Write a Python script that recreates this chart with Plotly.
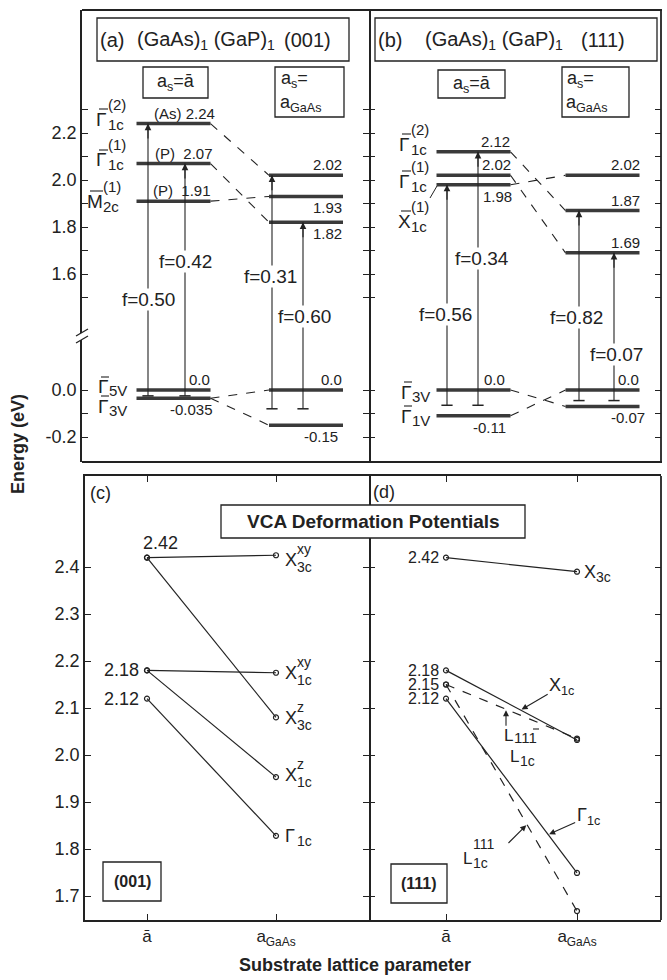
import plotly.graph_objects as go

W, H = 667, 980
FONT = "Liberation Sans, Arial, Helvetica, sans-serif"
INK = "#222222"
LEVEL_INK = "#3a3a3a"

# ---------------- data (energies in eV) ----------------
# (a) (GaAs)1(GaP)1 (001)
a_cond_abar = [2.24, 2.07, 1.91]      # Γ1c(2) (As), Γ1c(1) (P), M2c(1) (P)
a_cond_gaas = [2.02, 1.93, 1.82]
a_val_abar = [0.0, -0.035]            # Γ5V, Γ3V
a_val_gaas = [0.0, -0.15]
a_link_from = [2.24, 2.07, 1.91, -0.035, -0.035]
a_link_to = [2.02, 1.82, 1.93, 0.0, -0.15]
a_f = [0.50, 0.42, 0.31, 0.60]
a_tr_col = [0, 0, 1, 1]
a_tr_top = [2.24, 2.07, 2.02, 1.82]
a_tr_bot = [-0.025, -0.025, -0.08, -0.08]

# (b) (GaAs)1(GaP)1 (111)
b_cond_abar = [2.12, 2.02, 1.98]      # Γ1c(2), Γ1c(1), X1c(1)
b_cond_gaas = [2.02, 1.87, 1.69]
b_val_abar = [0.0, -0.11]             # Γ3V, Γ1V
b_val_gaas = [0.0, -0.07]
b_link_from = [2.12, 2.02, 1.98, 0.0, -0.11]
b_link_to = [1.87, 1.69, 2.02, -0.07, 0.0]
b_f = [0.56, 0.34, 0.82, 0.07]
b_tr_col = [0, 0, 1, 1]
b_tr_top = [1.98, 2.12, 1.87, 1.69]
b_tr_bot = [-0.065, -0.065, -0.045, -0.045]

# (c) VCA deformation potentials, (001): value at a-bar -> value at a_GaAs
c_start = [2.42, 2.18, 2.42, 2.18, 2.12]        # X3c^xy, X1c^xy, X3c^z, X1c^z, Γ1c
c_end = [2.425, 2.175, 2.08, 1.953, 1.828]
# (d) (111)
d_start = [2.42, 2.18, 2.15, 2.12, 2.15]        # X3c, X1c, L1c^(11-1), Γ1c, L1c^(111)
d_end = [2.39, 2.032, 2.035, 1.749, 1.668]
d_dashed = [False, False, True, False, True]

x_positions = [0, 1]
x_tick_text = ["ā", "a<sub>GaAs</sub>"]
top_up_ticks = [1.5, 1.6, 1.7, 1.8, 1.9, 2.0, 2.1, 2.2, 2.3]
top_up_ticktext = ["", "1.6", "", "1.8", "", "2.0", "", "2.2", ""]
top_lo_ticks = [-0.2, -0.1, 0.0]
top_lo_ticktext = ["-0.2", "", "0.0"]
bot_ticks = [1.7, 1.8, 1.9, 2.0, 2.1, 2.2, 2.3, 2.4]
bot_ticktext = ["1.7", "1.8", "1.9", "2.0", "2.1", "2.2", "2.3", "2.4"]

# ---------------- page geometry (pixels) ----------------
TOP_X0, TOP_XM, TOP_X1 = 82, 369, 661
TOP_Y0, TOP_YB, TOP_Y1 = 10, 338, 462
BOT_X0, BOT_XM, BOT_X1 = 85, 369, 661
BOT_Y0, BOT_Y1 = 476, 920
A_COLS = (173.5, 306.0)
B_COLS = (473.5, 602.5)
C_COLS = (147.0, 276.0)
D_COLS = (446.0, 577.0)
COL_HALF = 37


def xrange_for(x0, x1, cols):
    s = cols[1] - cols[0]
    return [(x0 - cols[0]) / s, (x1 - cols[0]) / s], s


def yrange_for(ytop, ybot, ref_val, ref_px, ppe):
    return [ref_val - (ybot - ref_px) / ppe, ref_val + (ref_px - ytop) / ppe]


def xdom(x0, x1):
    return [x0 / W, x1 / W]


def ydom(ytop, ybot):
    return [1 - ybot / H, 1 - ytop / H]


UP_RNG = yrange_for(TOP_Y0, TOP_YB, 2.2, 133, 235.0)
LO_RNG = yrange_for(TOP_YB, TOP_Y1, 0.0, 390, 235.0)
BOT_RNG = yrange_for(BOT_Y0, BOT_Y1, 2.4, 567, 470.0)
A_XR, A_S = xrange_for(TOP_X0, TOP_XM, A_COLS)
B_XR, B_S = xrange_for(TOP_XM, TOP_X1, B_COLS)
C_XR, _ = xrange_for(BOT_X0, BOT_XM, C_COLS)
D_XR, _ = xrange_for(BOT_XM, BOT_X1, D_COLS)

fig = go.Figure()
anns = []
shapes = []


def P(px, py):
    return px / W, 1 - py / H


def ann(text, x, y, xref="paper", yref="paper", dx=0, dy=0, size=15, xa="left",
        ya="middle", bold=False, **kw):
    if bold:
        text = f"<b>{text}</b>"
    d = dict(text=text, x=x, y=y, xref=xref, yref=yref, xshift=dx, yshift=-dy,
             showarrow=False, xanchor=xa, yanchor=ya, borderpad=0,
             font=dict(size=size, family=FONT, color=INK))
    d.update(kw)
    anns.append(d)


def annp(text, px, py, **kw):
    x, y = P(px, py)
    ann(text, x, y, **kw)


def stacked(base, sup, sub, x, y, xref="paper", yref="paper", dx=0, dy=0,
            size=18, ssize=14, bw=None, supdy=-11, subdy=7):
    bw = size * 0.62 if bw is None else bw
    ann(base, x, y, xref, yref, dx, dy, size)
    if sup:
        ann(sup, x, y, xref, yref, dx + bw, dy + supdy, ssize)
    if sub:
        ann(sub, x, y, xref, yref, dx + bw, dy + subdy, ssize)


def pline(x0, y0, x1, y1, width=1.5, color=INK):
    shapes.append(dict(type="line", xref="paper", yref="paper", x0=x0 / W, y0=1 - y0 / H,
                       x1=x1 / W, y1=1 - y1 / H, line=dict(width=width, color=color)))


def prect(x0, y0, x1, y1, width=1.3, fill=None, border=True):
    d = dict(type="rect", xref="paper", yref="paper", x0=x0 / W, y0=1 - y1 / H,
             x1=x1 / W, y1=1 - y0 / H, line=dict(width=(width if border else 0), color=INK))
    if fill:
        d["fillcolor"] = fill
    shapes.append(d)


def barred(base, sup, sub, px, py, bw, **kw):
    """Letter with an over-bar (drawn as a short line) and stacked indices."""
    stacked(base, sup, sub, *P(px, py), bw=bw, **kw)
    pline(px + 4, py - 10, px + bw + 1, py - 10, width=1.1)


def fmt(v):
    return "0.0" if v == 0 else f"{v:g}"


def build_top(xa, yu, yl, s, cond_l, cond_r, val_l, val_r, lk_from, lk_to,
              tr_col, tr_off, tr_top, tr_bot, f_vals, f_pos, labels):
    hw = COL_HALF / s
    groups = {"cond_l": (cond_l, 0, yu), "cond_r": (cond_r, 1, yu),
              "val_l": (val_l, 0, yl), "val_r": (val_r, 1, yl)}
    for key, (levels, col, yref) in groups.items():
        xs, ys = [], []
        for e in levels:
            xs += [col - hw, col + hw, None]
            ys += [e, e, None]
        fig.add_trace(go.Scatter(x=xs, y=ys, xaxis=xa, yaxis=yref, mode="lines",
                                 line=dict(color=LEVEL_INK, width=3.5), hoverinfo="skip"))
        for e, (place, prefix, dx) in zip(levels, labels[key]):
            ann(prefix + fmt(e), col + hw, e, xa, yref, dx=dx,
                dy=(-1 if place == "above" else 2), size=15, xa="right",
                ya=("bottom" if place == "above" else "top"))
    # dashed correlation lines
    ux, uy, lx, ly = [], [], [], []
    for e0, e1 in zip(lk_from, lk_to):
        if e0 > 1:
            ux += [hw, 1 - hw, None]
            uy += [e0, e1, None]
        else:
            lx += [hw, 1 - hw, None]
            ly += [e0, e1, None]
    for xs, ys, yref in [(ux, uy, yu), (lx, ly, yl)]:
        fig.add_trace(go.Scatter(x=xs, y=ys, xaxis=xa, yaxis=yref, mode="lines",
                                 line=dict(color=INK, width=1.1, dash="dash"),
                                 hoverinfo="skip"))
    # transitions
    ux, uy, lx, ly, tx, ty = [], [], [], [], [], []
    for c, off, t, b in zip(tr_col, tr_off, tr_top, tr_bot):
        xc = c + off / s
        lx += [xc, xc, None]
        ly += [b, LO_RNG[1], None]
        ux += [xc, xc, None]
        uy += [UP_RNG[0], t, None]
        tx.append(xc)
        ty.append(b)
        anns.append(dict(x=xc, y=t, xref=xa, yref=yu, ax=xc, ay=t - 0.07, axref=xa,
                         ayref=yu, text="", showarrow=True, arrowhead=2, arrowsize=1.2,
                         arrowwidth=1.1, arrowcolor=INK, standoff=0))
    fig.add_trace(go.Scatter(x=lx, y=ly, xaxis=xa, yaxis=yl, mode="lines",
                             line=dict(color=INK, width=1.1), hoverinfo="skip"))
    fig.add_trace(go.Scatter(x=ux, y=uy, xaxis=xa, yaxis=yu, mode="lines",
                             line=dict(color=INK, width=1.1), hoverinfo="skip"))
    fig.add_trace(go.Scatter(x=tx, y=ty, xaxis=xa, yaxis=yl, mode="markers",
                             marker=dict(symbol="line-ew", size=8,
                                         line=dict(width=1.5, color=INK)),
                             hoverinfo="skip"))
    for f, (px, py) in zip(f_vals, f_pos):
        annp(f"f={f:.2f}", px, py, size=19, xa="center", bgcolor="white")


A_LABELS = {
    "cond_l": [("above", "(As) ", 5), ("above", "(P)\u00a0\u00a0", 3), ("above", "(P)\u00a0\u00a0", 1)],
    "cond_r": [("above", "", 0), ("below", "", 0), ("below", "", 0)],
    "val_l": [("above", "", 0), ("below", "", 3)],
    "val_r": [("above", "", 0), ("below", "", -4)],
}
B_LABELS = {
    "cond_l": [("above", "", 0), ("above", "", 1), ("below", "", 2)],
    "cond_r": [("above", "", 1), ("above", "", 1), ("above", "", 1)],
    "val_l": [("above", "", -5), ("below", "", -4)],
    "val_r": [("above", "", 0), ("below", "", 6)],
}

build_top("x", "y", "y2", A_S, a_cond_abar, a_cond_gaas, a_val_abar, a_val_gaas,
          a_link_from, a_link_to, a_tr_col, [-25.5, 11.5, -34, -3], a_tr_top, a_tr_bot,
          a_f, [(148, 299), (185, 261), (270, 276), (304, 316)], A_LABELS)
build_top("x2", "y3", "y4", B_S, b_cond_abar, b_cond_gaas, b_val_abar, b_val_gaas,
          b_link_from, b_link_to, b_tr_col, [-26.5, 4.5, -23.5, 11.5], b_tr_top, b_tr_bot,
          b_f, [(445, 315), (482, 259), (576, 317), (616, 354)], B_LABELS)

# ---------------- bottom panels ----------------
MK = dict(symbol="circle-open", size=5, color=INK, line=dict(width=1.2, color=INK))
for y0, y1 in zip(c_start, c_end):
    fig.add_trace(go.Scatter(x=x_positions, y=[y0, y1], xaxis="x3", yaxis="y5",
                             mode="lines+markers", line=dict(color=INK, width=1.2),
                             marker=MK, hoverinfo="skip"))
for y0, y1, dsh in zip(d_start, d_end, d_dashed):
    fig.add_trace(go.Scatter(x=x_positions, y=[y0, y1], xaxis="x4", yaxis="y6",
                             mode="lines+markers",
                             line=dict(color=INK, width=1.2, dash=("dash" if dsh else "solid")),
                             marker=MK, hoverinfo="skip"))

# (c) labels
ann(fmt(c_start[0]), 0, c_start[0], "x3", "y5", dx=13, dy=-15, size=18, xa="center")
for v in sorted(set(c_start[1:]) - {c_start[0]}, reverse=True):
    ann(fmt(v), 0, v, "x3", "y5", dx=-7, size=18, xa="right")
c_names = [("X", "xy", "3c"), ("X", "xy", "1c"), ("X", "z", "3c"), ("X", "z", "1c"), ("Γ", None, "1c")]
c_dy = [5, 0, 1, -2, 0]
for (b, sp, sb), v, ddy in zip(c_names, c_end, c_dy):
    stacked(b, sp, sb, 1, v, "x3", "y5", dx=8, dy=ddy, size=18, ssize=14, bw=12,
            supdy=-11, subdy=(7 if sp else 5))
# (d) labels
for v in sorted(set(d_start), reverse=True):
    ann(fmt(v), 0, v, "x4", "y6", dx=-6, size=16, xa="right")
stacked("X", None, "3c", 1, d_end[0], "x4", "y6", dx=6, dy=0, size=18, ssize=14, bw=12, subdy=5)


def on_line(i, t):
    return t, d_start[i] + t * (d_end[i] - d_start[i])


tx, ty = on_line(1, 0.57)
anns.append(dict(x=tx, y=ty, xref="x4", yref="y6", ax=41, ay=-24, text="X<sub>1c</sub>",
                 showarrow=True, arrowhead=2, arrowsize=1.1, arrowwidth=1.1, arrowcolor=INK,
                 font=dict(size=18, family=FONT, color=INK), standoff=1))
tx, ty = on_line(3, 0.78)
anns.append(dict(x=tx, y=ty, xref="x4", yref="y6", ax=40, ay=-18, text="Γ<sub>1c</sub>",
                 showarrow=True, arrowhead=2, arrowsize=1.1, arrowwidth=1.1, arrowcolor=INK,
                 font=dict(size=18, family=FONT, color=INK), standoff=1))
tx, ty = on_line(2, 0.458)
anns.append(dict(x=tx, y=ty, xref="x4", yref="y6", ax=0, ay=18, text="",
                 showarrow=True, arrowhead=2, arrowsize=1.1, arrowwidth=1.1, arrowcolor=INK,
                 standoff=1))
stacked("L", None, "111", *P(503, 735), size=17, ssize=15, bw=10, subdy=2)
pline(533, 729, 539, 729, width=1.1)
stacked("L", None, "1c", *P(509, 756), size=17, ssize=14, bw=10, subdy=5)
tx, ty = on_line(4, 0.618)
anns.append(dict(x=tx, y=ty, xref="x4", yref="y6", ax=-20, ay=20, text="",
                 showarrow=True, arrowhead=2, arrowsize=1.1, arrowwidth=1.1, arrowcolor=INK,
                 standoff=1))
stacked("L", "111", "1c", *P(462, 858), size=17, ssize=14, bw=10, supdy=-14, subdy=5)

# ---------------- top panel text ----------------
for (px, py, base, sp, sb, bw) in [(95, 119, "Γ", "(2)", "1c", 12), (95, 160, "Γ", "(1)", "1c", 12),
                                   (86, 201, "M", "(1)", "2c", 16),
                                   (398, 144, "Γ", "(2)", "1c", 12), (398, 181, "Γ", "(1)", "1c", 12),
                                   (397, 221, "X", "(1)", "1c", 13)]:
    barred(base, sp, sb, px, py, bw, size=19, ssize=15, supdy=-15, subdy=5)
for (px, py, sb) in [(97, 387, "5V"), (97, 406, "3V"), (400, 392, "3V"), (400, 416, "1V")]:
    barred("Γ", None, sb, px, py, 11, size=19, ssize=15, subdy=4)
pline(430, 198, 437, 186, width=1)

annp("(a)", 99, 40, size=20)
annp("(GaAs)<sub>1</sub> (GaP)<sub>1</sub>", 136, 40, size=20)
annp("(001)", 332, 40, size=20, xa="right")
annp("(b)", 377, 40, size=20)
annp("(GaAs)<sub>1</sub> (GaP)<sub>1</sub>", 424, 40, size=20)
annp("(111)", 626, 40, size=20, xa="right")
annp("a<sub>s</sub>=ā", 175.5, 82, size=18, xa="center")
annp("a<sub>s</sub>=", 280, 80, size=18)
annp("a<sub>GaAs</sub>", 279, 104, size=18)
annp("a<sub>s</sub>=ā", 471.5, 84, size=18, xa="center")
annp("a<sub>s</sub>=", 566, 80, size=18)
annp("a<sub>GaAs</sub>", 565, 104, size=18)

# frames / boxes / axis break
pline(TOP_X0, TOP_Y0, TOP_X1 + 1, TOP_Y0, width=1.8)
pline(TOP_X0, TOP_Y1, TOP_X1 + 1, TOP_Y1, width=1.8)
pline(TOP_X1, TOP_Y0, TOP_X1, TOP_Y1, width=1.8)
pline(BOT_X1, BOT_Y0, BOT_X1, BOT_Y1, width=1.8)
prect(97, 18, 349, 61)
prect(375, 18, 657, 61)
prect(143, 67, 208, 98)
prect(275, 67, 344, 117)
prect(438, 70, 505, 98)
prect(562, 67, 629, 117)
prect(221, 505, 525, 538, fill="white")
prect(103, 862, 161, 901)
prect(391, 864, 447, 903)
prect(78, 333, 87, 340, fill="white", border=False)
pline(76, 336, 88, 329, width=1.3)
pline(76, 343, 88, 336, width=1.3)

annp("(c)", 89, 493, size=18)
annp("(d)", 372, 492, size=18)
annp("VCA Deformation Potentials", 373, 521, size=19, xa="center", bold=True)
annp("(001)", 132, 881, size=16, xa="center", bold=True)
annp("(111)", 419, 883, size=16, xa="center", bold=True)
annp("Energy (eV)", 18, 444, size=18, xa="center", bold=True, textangle=-90)
annp("Substrate lattice parameter", 355, 965, size=18, xa="center", bold=True)

# ---------------- axes ----------------
TICKFONT = dict(size=18, family=FONT, color=INK)
ybase = dict(showgrid=False, zeroline=False, showline=True, linecolor=INK, linewidth=1.8,
             mirror="ticks", ticks="inside", ticklen=6, tickwidth=1.2, tickcolor=INK,
             tickfont=TICKFONT)
yright = dict(ybase, showline=False)
xhidden = dict(visible=False, showgrid=False, zeroline=False)
xbot = dict(showgrid=False, zeroline=False, showline=True, linecolor=INK, linewidth=1.8,
            mirror="ticks", ticks="inside", ticklen=6, tickwidth=1.2, tickcolor=INK,
            tickvals=x_positions, ticktext=x_tick_text, tickfont=dict(TICKFONT, size=17))

fig.update_layout(
    width=W, height=H, margin=dict(l=0, r=0, t=0, b=0),
    paper_bgcolor="white", plot_bgcolor="white", showlegend=False,
    font=dict(family=FONT, color=INK), hovermode=False,
    xaxis=dict(xhidden, domain=xdom(TOP_X0, TOP_XM), range=A_XR, anchor="y2"),
    xaxis2=dict(xhidden, domain=xdom(TOP_XM, TOP_X1), range=B_XR, anchor="y4"),
    xaxis3=dict(xbot, domain=xdom(BOT_X0, BOT_XM), range=C_XR, anchor="y5"),
    xaxis4=dict(xbot, domain=xdom(BOT_XM, BOT_X1), range=D_XR, anchor="y6"),
    yaxis=dict(ybase, domain=ydom(TOP_Y0, TOP_YB), range=UP_RNG, anchor="x",
               tickvals=top_up_ticks, ticktext=top_up_ticktext),
    yaxis2=dict(ybase, domain=ydom(TOP_YB, TOP_Y1), range=LO_RNG, anchor="x",
                tickvals=top_lo_ticks, ticktext=top_lo_ticktext),
    yaxis3=dict(yright, domain=ydom(TOP_Y0, TOP_YB), range=UP_RNG, anchor="x2",
                tickvals=top_up_ticks, showticklabels=False),
    yaxis4=dict(yright, domain=ydom(TOP_YB, TOP_Y1), range=LO_RNG, anchor="x2",
                tickvals=top_lo_ticks, showticklabels=False),
    yaxis5=dict(ybase, domain=ydom(BOT_Y0, BOT_Y1), range=BOT_RNG, anchor="x3",
                tickvals=bot_ticks, ticktext=bot_ticktext),
    yaxis6=dict(yright, domain=ydom(BOT_Y0, BOT_Y1), range=BOT_RNG, anchor="x4",
                tickvals=bot_ticks, showticklabels=False),
    annotations=anns, shapes=shapes,
)

# remove the default 8px page margin so the 667x980 figure fills the window exactly
fig.write_html("out.html", config={"displayModeBar": False},
               post_script="document.body.style.margin='0';")
